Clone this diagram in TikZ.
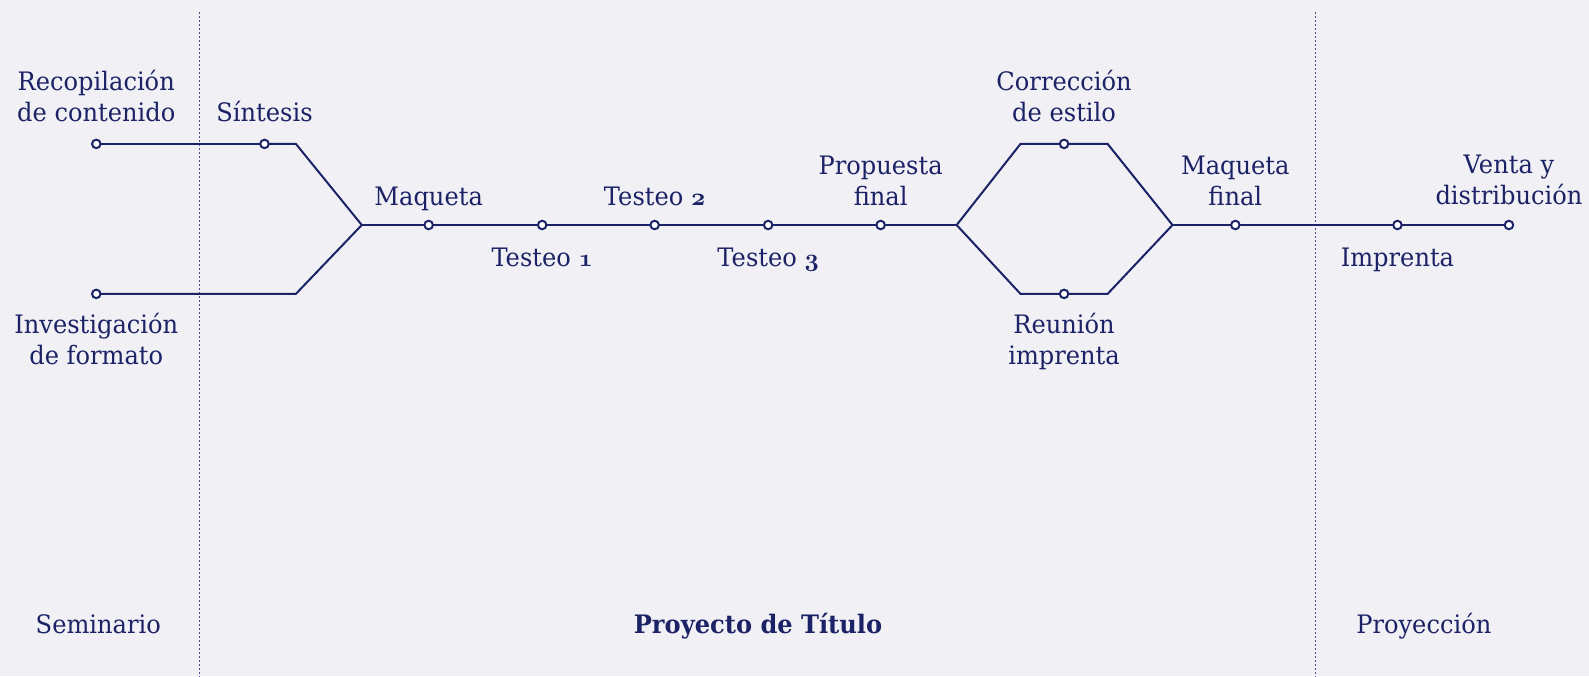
\documentclass[tikz,border=0pt]{standalone}
\usepackage{fontspec}
\setmainfont{DejaVu Serif}[FakeStretch=0.95]
\definecolor{bg}{HTML}{F0F0F5}
\definecolor{navy}{HTML}{1C2266}
\definecolor{dotc}{HTML}{4F5488}
\newcommand\osnum[1]{{\fontencoding{OML}\fontfamily{cmm}\fontseries{b}\fontshape{it}\selectfont #1}}
\begin{document}
\begin{tikzpicture}[x=1.01339bp,y=-1.01339bp,
  every node/.style={text=navy, font=\fontsize{25.5}{31.5}\selectfont, inner sep=0pt, outer sep=0pt},
  stop/.style={circle, draw=navy, fill=white, line width=2bp, minimum size=8.5bp},
  track/.style={draw=navy, line width=2bp, line join=miter},
  lbl/.style={anchor=base, align=center},
  sep/.style={draw=dotc, line width=1.6bp, dash pattern=on 1.6bp off 2.4bp}]
\path[fill=bg] (0,0) rectangle (1568,667.07);
\useasboundingbox (0,0) rectangle (1568,667.07);
% separators
\coordinate (s1a) at (197,12); \coordinate (s1b) at (197,668);
\coordinate (s2a) at (1298,12); \coordinate (s2b) at (1298,668);
\draw[sep] (s1a) -- (s1b);
\draw[sep] (s2a) -- (s2b);
% junctions
\coordinate (k1) at (292,142);
\coordinate (k2) at (292,290);
\coordinate (j1) at (357,222.03);
\coordinate (j2) at (944,222.03);
\coordinate (tl) at (1007,142);
\coordinate (tr) at (1093,142);
\coordinate (bl) at (1007,290);
\coordinate (br) at (1093,290);
\coordinate (j3) at (1157,222.03);
% stops
\node[stop] (rec) at (95,142) {};
\node[stop] (sin) at (261,142) {};
\node[stop] (inv) at (95,290) {};
\node[stop] (maq) at (423,222.03) {};
\node[stop] (te1) at (535,222.03) {};
\node[stop] (te2) at (646,222.03) {};
\node[stop] (te3) at (758,222.03) {};
\node[stop] (pro) at (869,222.03) {};
\node[stop] (cor) at (1050,142) {};
\node[stop] (reu) at (1050,290) {};
\node[stop] (mfi) at (1219,222.03) {};
\node[stop] (imp) at (1379,222.03) {};
\node[stop] (ven) at (1489,222.03) {};
% tracks
\draw[track] (rec) -- (sin);
\draw[track] (sin) -- (k1) -- (j1);
\draw[track] (inv) -- (k2) -- (j1);
\draw[track] (j1) -- (maq);
\draw[track] (maq) -- (te1);
\draw[track] (te1) -- (te2);
\draw[track] (te2) -- (te3);
\draw[track] (te3) -- (pro);
\draw[track] (pro) -- (j2);
\draw[track] (j2) -- (tl) -- (cor);
\draw[track] (cor) -- (tr) -- (j3);
\draw[track] (j2) -- (bl) -- (reu);
\draw[track] (reu) -- (br) -- (j3);
\draw[track] (j3) -- (mfi);
\draw[track] (mfi) -- (imp);
\draw[track] (imp) -- (ven);
% labels (base = baseline of last line)
\node[lbl] (lrec) at (95,120) {Recopilación\\de contenido};
\node[lbl] (lsin) at (261,120) {Síntesis};
\node[lbl] (linv) at (95,360) {Investigación\\de formato};
\node[lbl] (lmaq) at (423,203) {Maqueta};
\node[lbl] (lte1) at (535,262.5) {Testeo \osnum{1}};
\node[lbl] (lte2) at (646,203) {Testeo \osnum{2}};
\node[lbl] (lte3) at (758,262.5) {Testeo \osnum{3}};
\node[lbl] (lpro) at (869,203) {Propuesta\\final};
\node[lbl] (lcor) at (1050,120) {Corrección\\de estilo};
\node[lbl] (lreu) at (1050,360) {Reunión\\imprenta};
\node[lbl] (lmfi) at (1219,203) {Maqueta\\final};
\node[lbl] (limp) at (1379,262.5) {Imprenta};
\node[lbl] (lven) at (1489,202) {Venta y\\distribución};
\node[lbl] (sem) at (97,625.5) {Seminario};
\node[lbl, font=\fontsize{25.5}{31.5}\selectfont\bfseries] (tit) at (748,625.5) {Proyecto de Título};
\node[lbl] (proy) at (1405,625.5) {Proyección};
\end{tikzpicture}
\end{document}
